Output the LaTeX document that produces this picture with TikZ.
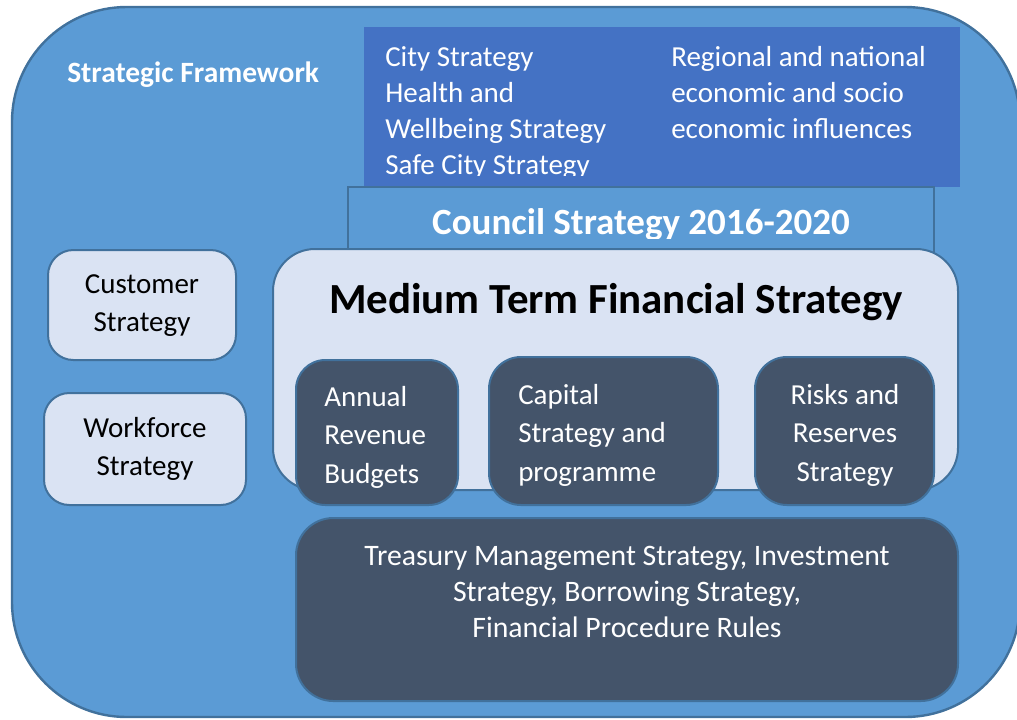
\documentclass[tikz,border=0pt]{standalone}
\usepackage{fontspec}
\setmainfont{Carlito}
\definecolor{outerfill}{HTML}{5B9BD5}
\definecolor{edge}{HTML}{41719C}
\definecolor{topfill}{HTML}{4472C4}
\definecolor{lightfill}{HTML}{DAE3F3}
\definecolor{darkfill}{HTML}{44546A}
\tikzset{
  outerbox/.style={fill=outerfill,draw=edge,line width=1.8pt,rounded corners=86pt},
  lightbox/.style={fill=lightfill,draw=edge,line width=1.5pt},
  darkbox/.style={fill=darkfill,draw=edge,line width=1.5pt},
  txtA/.style={inner sep=0pt,text=white,font=\fontsize{21.75}{27}\selectfont},
  txtB/.style={inner sep=0pt,text=white,font=\fontsize{21.75}{28.9}\selectfont},
  txtC/.style={inner sep=0pt,text=black,font=\fontsize{21.75}{28.5}\selectfont},
}
\begin{document}
\begin{tikzpicture}[x=0.75pt,y=-0.75pt]
\useasboundingbox (0,0) rectangle (1017,719);
\clip (0,0) rectangle (1017,719);
% outer frame
\path[outerbox] (12,7) rectangle (1020,717);
\node[txtA,anchor=base west,font=\fontsize{22.1}{27}\selectfont\bfseries] (sf) at (67,82) {Strategic Framework};
% top box
\path[fill=topfill] (364,27) rectangle (960,187);
\begin{scope}
\clip (364,27) rectangle (960,175.5);
\node[txtA,anchor=north west,align=left] (city) at (385,40.8)
  {\strut City Strategy\\\strut Health and\\\strut Wellbeing Strategy\\\strut Safe City Strategy};
\node[txtA,anchor=north west,align=left] (regional) at (671,40.8)
  {\strut Regional and national\\\strut economic and socio\\\strut economic influences};
\end{scope}
% council strategy
\path[fill=outerfill,draw=edge,line width=1.5pt] (348,187) rectangle (934,300);
\begin{scope}
\clip (348,190) rectangle (934,238.5);
\node[inner sep=0pt,text=white,anchor=base,font=\fontsize{27.75}{33}\selectfont\bfseries] (council) at (641,234) {Council Strategy 2016-2020};
\end{scope}
% MTFS
\path[lightbox,rounded corners=31.5pt] (273,249) rectangle (958,490);
\node[inner sep=0pt,text=black,anchor=base,font=\fontsize{32.2}{38}\selectfont\bfseries] (mtfs) at (616,313) {Medium Term Financial Strategy};
% inner dark boxes
\path[darkbox,rounded corners=22pt] (296,360) rectangle (458,505);
\node[txtB,anchor=north west,align=left] (annual) at (324,379)
  {\strut Annual\\\strut Revenue\\\strut Budgets};
\path[darkbox,rounded corners=24pt] (489,357) rectangle (718,505);
\node[txtB,anchor=north west,align=left] (capital) at (518,377)
  {\strut Capital\\\strut Strategy and\\\strut programme};
\path[darkbox,rounded corners=24pt] (755,357) rectangle (934,505);
\node[txtB,anchor=north,align=center] (risks) at (845,377)
  {\strut Risks and\\\strut Reserves\\\strut Strategy};
% treasury
\path[darkbox,rounded corners=28pt] (296,518) rectangle (958,701);
\node[txtA,anchor=north,align=center,font=\fontsize{22.3}{27}\selectfont] (treasury) at (627,540.5)
  {\strut Treasury Management Strategy, Investment\\\strut Strategy, Borrowing Strategy,\\\strut Financial Procedure Rules};
% left boxes
\path[lightbox,rounded corners=19pt] (48,250) rectangle (236,360);
\node[txtC,anchor=north,align=center] (customer) at (142,266.4)
  {\strut Customer\\\strut Strategy};
\path[lightbox,rounded corners=19pt] (44,393) rectangle (246,505);
\node[txtC,anchor=north,align=center] (workforce) at (145,410.4)
  {\strut Workforce\\\strut Strategy};
\end{tikzpicture}
\end{document}
